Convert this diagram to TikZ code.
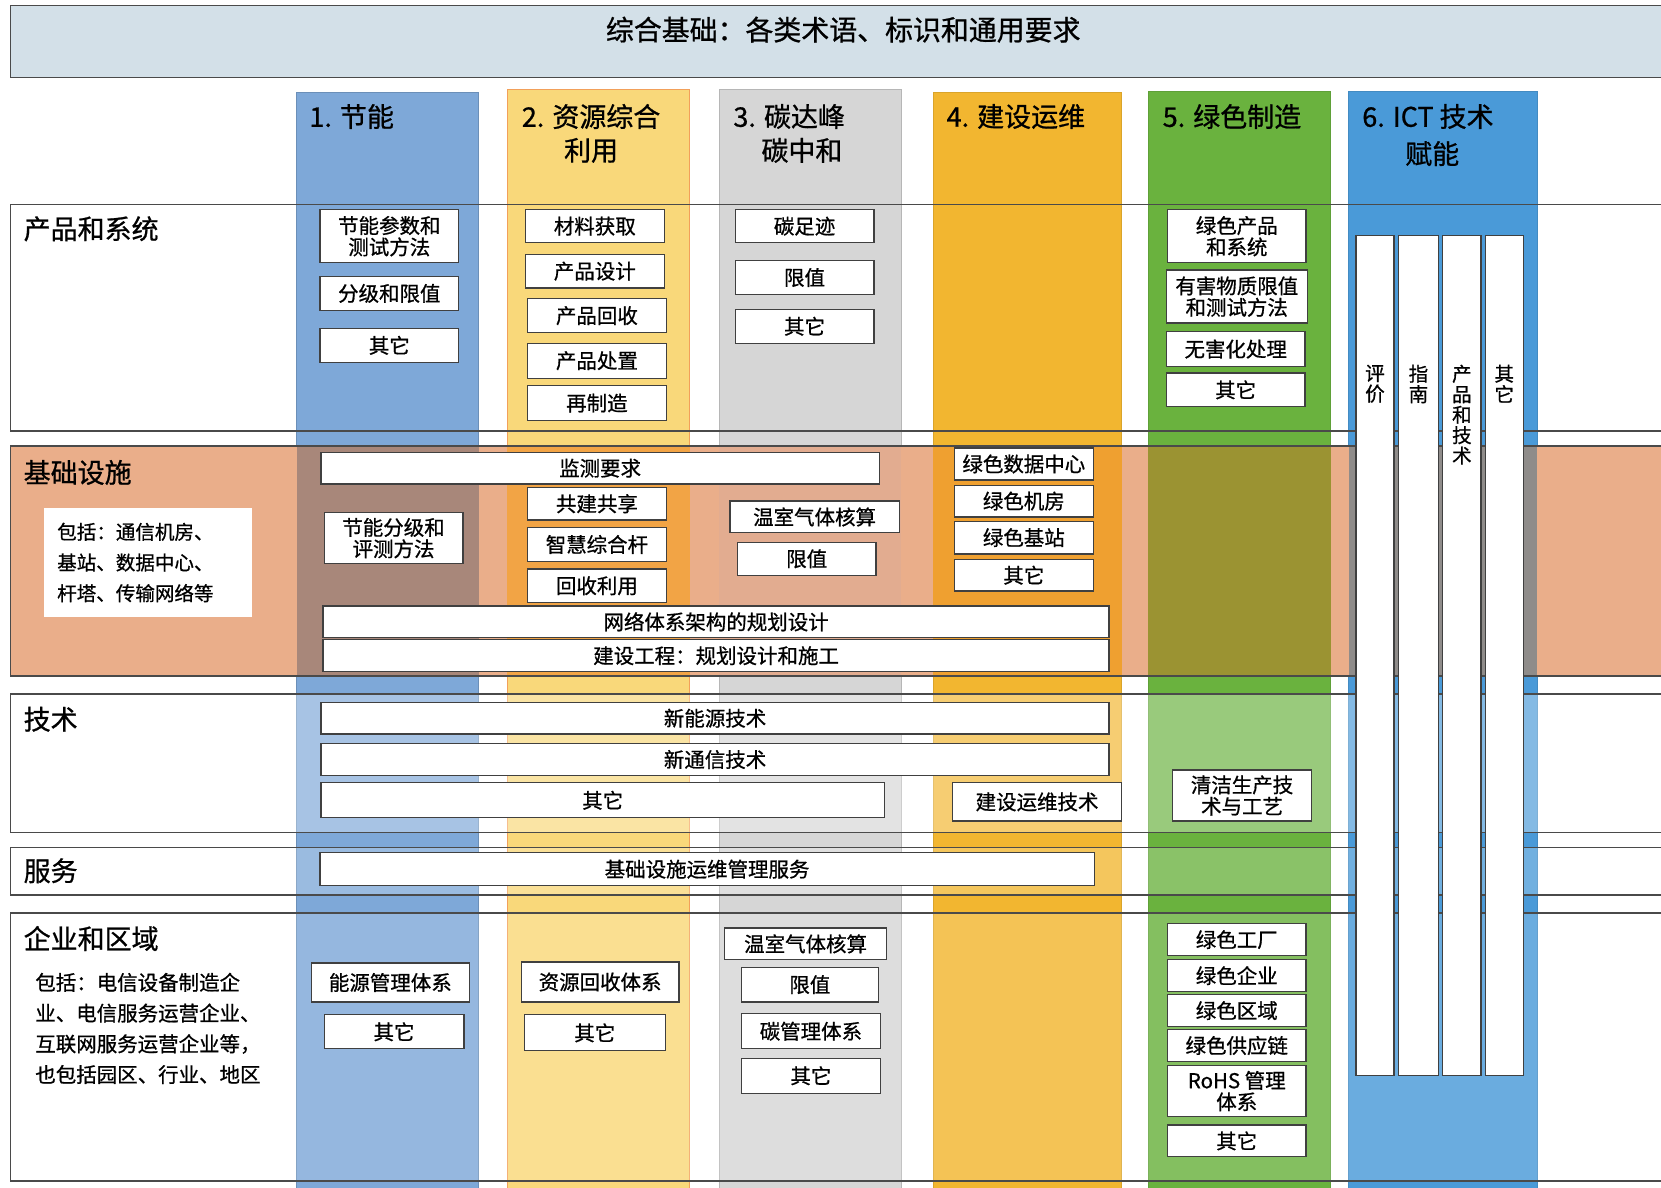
\documentclass[tikz,border=0pt]{standalone}
\usepackage{fontspec}
\newfontfamily\cjk[FakeBold=0.8]{Noto Sans CJK SC}

\definecolor{titlebg}{HTML}{D3E0E8}
\definecolor{rowline}{HTML}{4A4A4A}
\definecolor{jnblue}{HTML}{7EA8D8}
\definecolor{zyyellow}{HTML}{F9D87A}
\definecolor{zyedge}{HTML}{F2A05A}
\definecolor{tgrey}{HTML}{D6D6D6}
\definecolor{jsgold}{HTML}{F2B630}
\definecolor{lsgreen}{HTML}{6AB23E}
\definecolor{ictblue}{HTML}{4A9AD8}
\definecolor{peach}{HTML}{EAAE8A}
\definecolor{jnpeach}{HTML}{A8877A}
\definecolor{zypeach}{HTML}{F2A445}
\definecolor{tgpeach}{HTML}{E2AC90}
\definecolor{jspeach}{HTML}{EFA030}
\definecolor{lspeach}{HTML}{9B9332}
\definecolor{ictpeach}{HTML}{8F8C8A}

% box from its corners: name, x1, y1, x2, y2, text
\newcommand{\tbox}[6]{\node[item, minimum width={(#4-#2)*0.02cm}, minimum height={(#5-#3)*0.02cm}] (#1) at ({(#2+#4)/2},{(#3+#5)/2}) {#6};}

\begin{document}
\begin{tikzpicture}[x=0.02cm,y=-0.02cm,
  item/.style={draw=black!75, fill=white, line width=0.7pt, inner sep=0pt, align=center, font=\cjk\fontsize{11}{11.5}\selectfont},
  rowname/.style={anchor=west, inner sep=0pt, font=\cjk\fontsize{14.5}{16}\selectfont},
  colhead/.style={inner sep=0pt, font=\cjk\fontsize{14.5}{16}\selectfont},
  vtext/.style={anchor=north, inner sep=0pt, align=center, font=\cjk\fontsize{10.5}{11}\selectfont},
  rowframe/.style={draw=rowline, line width=0.8pt}]

\def\rgt{1590}

\useasboundingbox (0,0) rectangle (1568,1121);
\fill[white] (0,0) rectangle (1568,1121);

\filldraw[fill=titlebg, rowframe] (10,5) rectangle (\rgt,73);
\node[colhead, font=\cjk\fontsize{15}{17}\selectfont] (title) at (796,28) {综合基础：各类术语、标识和通用要求};

% columns
\foreach \xa/\xb/\yt/\c/\e in {280/452/87/jnblue/jnblue!85!black, 479/651/84/zyyellow/zyedge, 679/851/84/tgrey/tgrey!85!black, 881/1059/87/jsgold/jsgold!90!black, 1084/1256/86/lsgreen/lsgreen!90!black, 1273/1451/86/ictblue/ictblue!90!black}
  \filldraw[fill=\c, draw=\e, line width=0.5pt] (\xa,\yt) rectangle (\xb,1130);

% infrastructure band
\fill[peach] (10,421) rectangle (\rgt,638);
\foreach \xa/\xb/\c in {280/452/jnpeach, 479/651/zypeach, 679/851/tgpeach, 881/1059/jspeach, 1084/1256/lspeach, 1273/1451/ictpeach}
  \fill[\c] (\xa,421) rectangle (\xb,638);

\foreach \ya/\yb/\op in {655/786/0.32, 800/845/0.22, 862/1115/0.18}
  \fill[white, opacity=\op] (10,\ya) rectangle (\rgt,\yb);

\foreach \ya/\yb in {193/407, 421/638, 655/786, 800/845, 862/1115}
  \draw[rowframe] (\rgt,\ya) -| (10,\yb) -- (\rgt,\yb);

\node[colhead] (h1) at (332,110) {1. 节能};
\node[colhead] (h2a) at (558,110) {2. 资源综合};
\node[colhead] (h2b) at (558,142) {利用};
\node[colhead] (h3a) at (745,110) {3. 碳达峰};
\node[colhead] (h3b) at (757,142) {碳中和};
\node[colhead] (h4) at (959,110) {4. 建设运维};
\node[colhead] (h5) at (1163,110) {5. 绿色制造};
\node[colhead] (h6a) at (1348,110) {6. ICT 技术};
\node[colhead] (h6b) at (1352,145) {赋能};

\node[rowname] (r1) at (22,216) {产品和系统};
\node[rowname] (r2) at (22,446) {基础设施};
\node[rowname] (r3) at (22,679) {技术};
\node[rowname] (r4) at (22,822) {服务};
\node[rowname] (r5) at (22,886) {企业和区域};

\node[fill=white, inner xsep=12*0.02cm, inner ysep=0pt, text width=172*0.02cm, minimum height=102*0.02cm, align=left, font=\cjk\fontsize{10.5}{16.5}\selectfont] (jcnote) at (140,531) {包括：通信机房、\\基站、数据中心、\\杆塔、传输网络等};
\node[anchor=north west, inner sep=0pt, align=left, font=\cjk\fontsize{11}{16.5}\selectfont] (qynote) at (33,918) {包括：电信设备制造企\\业、电信服务运营企业、\\互联网服务运营企业等，\\也包括园区、行业、地区};

% ICT strips
\foreach \xa/\xb/\t [count=\i] in {1280/1316/{评\\价}, 1320/1358/{指\\南}, 1362/1398/{产\\品\\和\\技\\术}, 1402/1438/{其\\它}} {
  \tbox{ict\i}{\xa}{222}{\xb}{1015}{}
  \node[vtext] (ictt\i) at ({(\xa+\xb)/2},344) {\t};
}

\tbox{jn1}{302}{198}{433}{248}{节能参数和\\测试方法}
\tbox{jn2}{302}{261}{433}{293}{分级和限值}
\tbox{jn3}{302}{310}{433}{342}{其它}
\tbox{zy1}{496}{198}{627}{229}{材料获取}
\tbox{zy2}{496}{240}{627}{272}{产品设计}
\tbox{zy3}{498}{282}{629}{314}{产品回收}
\tbox{zy4}{498}{324}{629}{357}{产品处置}
\tbox{zy5}{498}{364}{629}{397}{再制造}
\tbox{tf1}{694}{198}{825}{229}{碳足迹}
\tbox{tf2}{694}{246}{825}{278}{限值}
\tbox{tf3}{694}{292}{825}{324}{其它}
\tbox{ls1}{1102}{198}{1233}{248}{绿色产品\\和系统}
\tbox{ls2}{1101}{255}{1234}{305}{有害物质限值\\和测试方法}
\tbox{ls3}{1101}{313}{1232}{346}{无害化处理}
\tbox{ls4}{1101}{352}{1232}{384}{其它}

\tbox{jc1}{303}{427}{830}{457}{监测要求}
\tbox{jc2}{306}{484}{437}{532}{节能分级和\\评测方法}
\tbox{jc3}{498}{460}{629}{491}{共建共享}
\tbox{jc4}{498}{498}{629}{530}{智慧综合杆}
\tbox{jc5}{498}{537}{629}{569}{回收利用}
\tbox{jc6}{689}{473}{849}{503}{温室气体核算}
\tbox{jc7}{696}{512}{827}{543}{限值}
\tbox{jc8}{901}{423}{1032}{453}{绿色数据中心}
\tbox{jc9}{901}{458}{1032}{488}{绿色机房}
\tbox{jc10}{901}{492}{1032}{523}{绿色基站}
\tbox{jc11}{901}{528}{1032}{558}{其它}
\tbox{jc12}{305}{572}{1047}{602}{网络体系架构的规划设计}
\tbox{jc13}{305}{604}{1047}{634}{建设工程：规划设计和施工}

\tbox{js1}{303}{663}{1047}{693}{新能源技术}
\tbox{js2}{303}{702}{1047}{732}{新通信技术}
\tbox{js3}{303}{739}{835}{772}{其它}
\tbox{js4}{899}{739}{1059}{775}{建设运维技术}
\tbox{js5}{1107}{727}{1238}{775}{清洁生产技\\术与工艺}

\tbox{fw1}{302}{805}{1033}{836}{基础设施运维管理服务}

\tbox{qy1}{294}{909}{443}{946}{能源管理体系}
\tbox{qy2}{306}{958}{438}{990}{其它}
\tbox{qy3}{492}{908}{641}{946}{资源回收体系}
\tbox{qy4}{495}{958}{628}{992}{其它}
\tbox{qy5}{684}{876}{837}{906}{温室气体核算}
\tbox{qy6}{700}{913}{829}{946}{限值}
\tbox{qy7}{700}{957}{831}{990}{碳管理体系}
\tbox{qy8}{700}{999}{831}{1032}{其它}
\tbox{qy9}{1102}{872}{1233}{902}{绿色工厂}
\tbox{qy10}{1102}{906}{1233}{936}{绿色企业}
\tbox{qy11}{1102}{939}{1233}{969}{绿色区域}
\tbox{qy12}{1102}{972}{1233}{1002}{绿色供应链}
\tbox{qy13}{1102}{1006}{1233}{1054}{RoHS 管理\\体系}
\tbox{qy14}{1102}{1062}{1233}{1092}{其它}

\end{tikzpicture}
\end{document}
